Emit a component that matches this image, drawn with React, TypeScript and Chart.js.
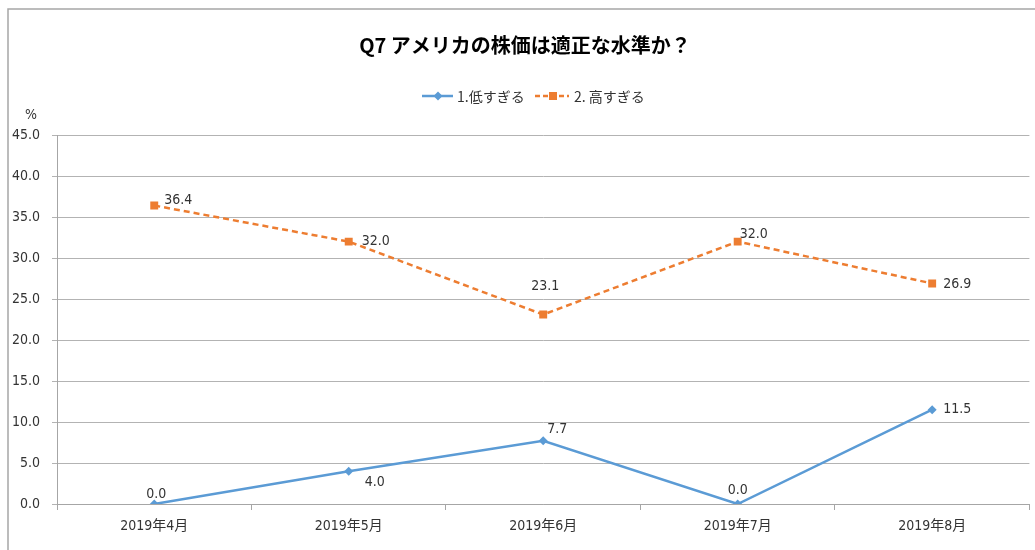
import React, { useEffect, useRef } from "react";
import { Chart, registerables } from "chart.js";

Chart.register(...registerables);

const categories = ["2019年4月", "2019年5月", "2019年6月", "2019年7月", "2019年8月"];
const lowValues = [0.0, 4.0, 7.7, 0.0, 11.5];
const highValues = [36.4, 32.0, 23.1, 32.0, 26.9];
const seriesNames = ["1.低すぎる", "2. 高すぎる"];
const titleText = "Q7 アメリカの株価は適正な水準か？";
const yUnit = "%";

const BLUE = "#5B9BD5";
const ORANGE = "#ED7D31";
const NARROW = "'Liberation Sans Narrow', 'DejaVu Sans Condensed', 'Noto Sans CJK JP', sans-serif";
const JP = "'Noto Sans CJK JP', sans-serif";

// label offsets (dx, dy) from the point to the text's left/middle
const lowLabelOffsets = [[-8, -10], [16, 11], [4, -12], [-10, -14], [11, 0]];
const highLabelOffsets = [[10, -5], [13, 0], [-12, -28], [2, -7], [11, 1]];

const decorPlugin = {
  id: "decor",
  beforeDraw(chart: any) {
    const ctx = chart.ctx;
    ctx.save();
    ctx.fillStyle = "#ffffff";
    ctx.fillRect(0, 0, chart.width, chart.height);
    ctx.strokeStyle = "#a6a6a6";
    ctx.lineWidth = 1.5;
    ctx.beginPath();
    ctx.moveTo(8, 550);
    ctx.lineTo(8, 9);
    ctx.lineTo(1035, 9);
    ctx.stroke();
    // title
    ctx.fillStyle = "#000000";
    ctx.font = `bold 20px ${JP}`;
    ctx.textAlign = "center";
    ctx.textBaseline = "middle";
    ctx.fillText(titleText, 525, 45);
    // unit
    ctx.font = `14px ${NARROW}`;
    ctx.fillStyle = "#333333";
    ctx.fillText(yUnit, 31, 115);
    // legend
    const ly = 96;
    ctx.textAlign = "left";
    ctx.font = `14px ${JP}`;
    // blue
    ctx.strokeStyle = BLUE;
    ctx.lineWidth = 2.5;
    ctx.setLineDash([]);
    ctx.beginPath();
    ctx.moveTo(422, ly);
    ctx.lineTo(453, ly);
    ctx.stroke();
    ctx.fillStyle = BLUE;
    ctx.beginPath();
    ctx.moveTo(438, ly - 4.5);
    ctx.lineTo(442.5, ly);
    ctx.lineTo(438, ly + 4.5);
    ctx.lineTo(433.5, ly);
    ctx.closePath();
    ctx.fill();
    ctx.fillStyle = "#333333";
    ctx.fillText(seriesNames[0], 457, ly + 1);
    // orange
    ctx.strokeStyle = ORANGE;
    ctx.setLineDash([5, 3]);
    ctx.beginPath();
    ctx.moveTo(535, ly);
    ctx.lineTo(569, ly);
    ctx.stroke();
    ctx.setLineDash([]);
    ctx.fillStyle = ORANGE;
    ctx.fillRect(549, ly - 4, 8, 8);
    ctx.fillStyle = "#333333";
    ctx.fillText(seriesNames[1], 574, ly + 1);
    ctx.restore();
  },
  afterDatasetsDraw(chart: any) {
    const ctx = chart.ctx;
    ctx.save();
    ctx.font = `14px ${NARROW}`;
    ctx.fillStyle = "#333333";
    ctx.textAlign = "left";
    ctx.textBaseline = "middle";
    const offsets = [lowLabelOffsets, highLabelOffsets];
    chart.data.datasets.forEach((ds: any, di: number) => {
      const meta = chart.getDatasetMeta(di);
      meta.data.forEach((pt: any, i: number) => {
        const [dx, dy] = offsets[di][i];
        ctx.fillText(Number(ds.data[i]).toFixed(1), pt.x + dx, pt.y + dy);
      });
    });
    ctx.restore();
  },
};

export default function App() {
  const ref = useRef<HTMLCanvasElement>(null);
  useEffect(() => {
    document.body.style.margin = "0";
    const chart = new Chart(ref.current!, {
      type: "line",
      data: {
        labels: categories,
        datasets: [
          {
            label: seriesNames[0],
            data: lowValues,
            borderColor: BLUE,
            backgroundColor: BLUE,
            borderWidth: 2.5,
            pointStyle: "rectRot",
            pointRadius: 4.5,
            pointBorderWidth: 0,
            tension: 0,
          },
          {
            label: seriesNames[1],
            data: highValues,
            borderColor: ORANGE,
            backgroundColor: ORANGE,
            borderWidth: 2.5,
            borderDash: [6, 4],
            pointStyle: "rect",
            pointRadius: 5.6,
            pointBorderWidth: 0,
            tension: 0,
          },
        ],
      },
      options: {
        responsive: false,
        animation: false,
        layout: { padding: { top: 135, right: 3, left: 0, bottom: 0 } },
        plugins: {
          legend: { display: false },
          title: { display: false },
          tooltip: { enabled: false },
        },
        scales: {
          x: {
            offset: true,
            afterFit: (s: any) => {
              s.height = 46;
            },
            grid: {
              offset: true,
              drawOnChartArea: false,
              drawTicks: true,
              tickLength: 6,
              color: "#a6a6a6",
            },
            border: { display: true, color: "#a6a6a6", width: 1 },
            ticks: {
              padding: 8,
              color: "#333333",
              font: { family: NARROW, size: 14 },
              maxRotation: 0,
            },
          },
          y: {
            min: 0,
            max: 45,
            afterFit: (s: any) => {
              s.width = 57;
            },
            grid: {
              color: "#b3b3b3",
              lineWidth: 1,
              tickLength: 5,
            },
            border: { display: true, color: "#a6a6a6", width: 1 },
            ticks: {
              stepSize: 5,
              padding: 12,
              color: "#333333",
              font: { family: NARROW, size: 14 },
              callback: (v: any) => Number(v).toFixed(1),
            },
          },
        },
      },
      plugins: [decorPlugin],
    });
    return () => chart.destroy();
  }, []);
  return <canvas ref={ref} width={1035} height={550} style={{ display: "block" }} />;
}
